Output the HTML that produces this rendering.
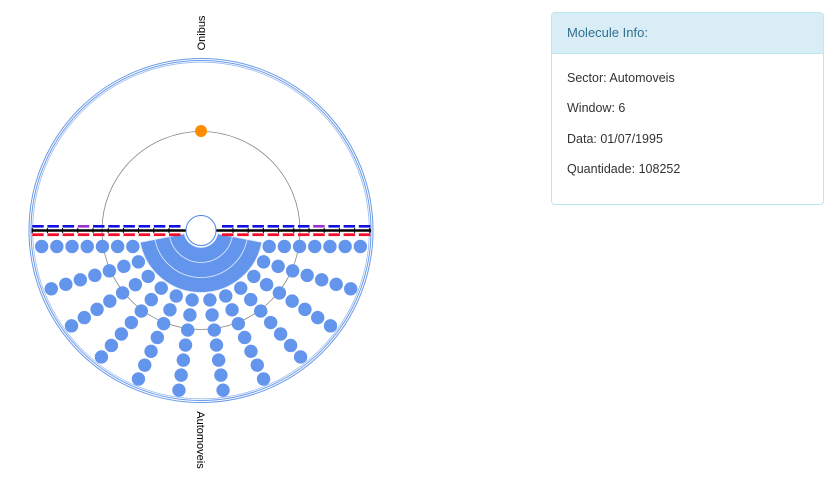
<!DOCTYPE html>
<html><head><meta charset="utf-8"><style>
body{margin:0;width:833px;height:478px;background:#fff;font-family:"Liberation Sans",sans-serif;overflow:hidden;position:relative}
#panel{position:absolute;left:551px;top:12px;width:271px;height:191px;border:1px solid #bce8f1;border-radius:4px;background:#fff}
#ph{height:40px;background:#d9edf7;border-bottom:1px solid #bce8f1;color:#31708f;font-size:13px;line-height:40px;padding-left:15px;border-radius:3px 3px 0 0}
.row{position:absolute;left:15px;font-size:12.5px;color:#333}
</style></head><body>
<svg id="chart" width="540" height="478" style="position:absolute;left:0;top:0"></svg>
<div id="panel">
<div id="ph">Molecule Info:</div>
<div class="row" style="top:58px">Sector: Automoveis</div>
<div class="row" style="top:88px">Window: 6</div>
<div class="row" style="top:119px">Data: 01/07/1995</div>
<div class="row" style="top:149px">Quantidade: 108252</div>
</div>
<script>
const rayStartAngles=[13.2,26.6,41,55.4,69.3,82.7];
const rayDirAngles=[0,17.2,32.8,49,65.5,81.7];
const dotsPerRay=[7,7,7,7,7,7];
const bandRadii=[17,32,47,62];
const dashCount=10;
const NS="http://www.w3.org/2000/svg";
const svg=document.getElementById('chart');
const cx=201,cy=230.5;
function mk(t,a,p){const e=document.createElementNS(NS,t);for(const k in a)e.setAttribute(k,a[k]);(p||svg).appendChild(e);return e;}
function pt(r,deg){const a=deg*Math.PI/180;return [cx+r*Math.cos(a),cy+r*Math.sin(a)];}
let c;
c=mk('circle',{cx,cy,r:172,fill:'none',stroke:'#6a9ae8','stroke-width':1});

c=mk('circle',{cx,cy,r:170,fill:'none',stroke:'#6a9ae8','stroke-width':1});

c=mk('circle',{cx,cy,r:168.3,fill:'none',stroke:'#9cbcf0','stroke-width':0.8});

c=mk('circle',{cx,cy,r:99,fill:'none',stroke:'#888','stroke-width':0.8});

for(let i=0;i<3;i++){
  const r0=bandRadii[i],r1=bandRadii[i+1],a0=11,a1=169;
  const p1=pt(r1,a0),p2=pt(r1,a1),p3=pt(r0,a1),p4=pt(r0,a0);
  const d=`M${p1} A${r1},${r1} 0 0 1 ${p2} L${p3} A${r0},${r0} 0 0 0 ${p4}Z`;
  const e=mk('path',{d,fill:'#6495ed',stroke:'#dce8fb','stroke-width':0.8});
  
}
[[32,186],[216,371]].forEach((seg,s)=>{
  const l=mk('line',{x1:seg[0],y1:cy,x2:seg[1],y2:cy,stroke:'#000','stroke-width':2.5});
  
  for(let k=0;k<dashCount;k++){
    const x=s?216+6+k*15.2:186-6-k*15.2-11;
    const purple=(k==6);
    const b=mk('rect',{x:x,y:cy-5.5,width:11.5,height:2.6,fill:purple?'#9b30d0':'#1010e0'});
    
    const r=mk('rect',{x:x,y:cy+2.8,width:11.5,height:2.8,fill:'#f0102a'});
    
    const t=mk('line',{x1:x+(s?11:0),y1:cy-2.5,x2:x+(s?11:0),y2:cy+2.5,stroke:'#000','stroke-width':1});
    
  }
});
c=mk('circle',{cx,cy,r:15,fill:'#fff',stroke:'#4a86e8','stroke-width':1});

[1,-1].forEach(side=>{
  rayStartAngles.forEach((sa,i)=>{
    const st=pt(70,side>0?180-sa:sa);
    const dir=(side>0?180-rayDirAngles[i]:rayDirAngles[i])*Math.PI/180;
    for(let k=0;k<dotsPerRay[i];k++){
      const x=st[0]+k*15.2*Math.cos(dir),y=st[1]+k*15.2*Math.sin(dir);
      const d=mk('circle',{cx:x,cy:y,r:6.7,fill:'#6495ed'});
      
      
    }
  });
});
c=mk('circle',{cx:201,cy:131,r:6,fill:'#ff8c00'});

let t=mk('text',{x:0,y:0,'font-size':11,fill:'#000','text-anchor':'middle',transform:'translate(205,33) rotate(-90)'});
t.textContent='Onibus';
t=mk('text',{x:0,y:0,'font-size':11,fill:'#000','text-anchor':'middle',transform:'translate(197,440) rotate(90)'});
t.textContent='Automoveis';
</script>
</body></html>
